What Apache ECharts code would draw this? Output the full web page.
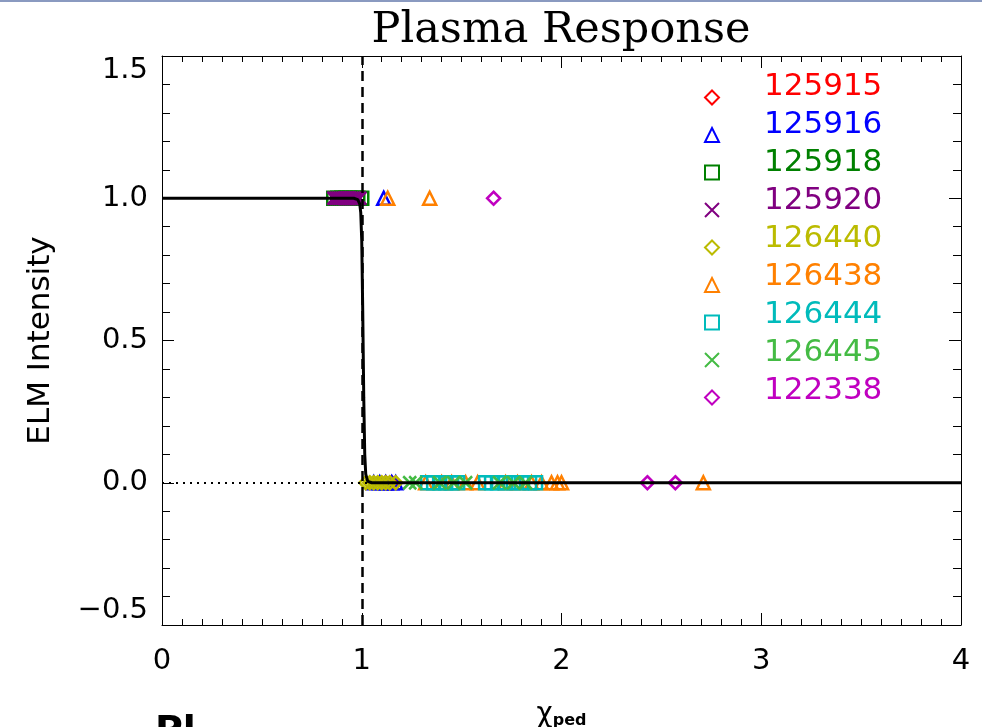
<!DOCTYPE html>
<html><head><meta charset="utf-8">
<script src="https://cdn.jsdelivr.net/npm/echarts@6/dist/echarts.min.js"></script>
<style>html,body{margin:0;padding:0;background:#fff;overflow:hidden}#c{width:982px;height:727px}</style>
</head><body><div id="c"></div>
<script>
// ---- data ----
const shotNames   = ['125915','125916','125918','125920','126440','126438','126444','126445','122338'];
const shotColors  = ['#ff0000','#0000ff','#008000','#800080','#bbbb00','#ff8000','#00bbbb','#44bb44','#c000c0'];
const shotSymbols = ['diamond','triangle','rect','cross','diamond','triangle','rect','cross','diamond'];

const d125915 = [[1.12,0],[1.15,0]];
const d125916 = [[1.11,1],[1.06,0],[1.09,0],[1.12,0],[1.15,0],[1.17,0]];
const d125918 = [[0.86,1],[0.88,1],[0.90,1],[0.92,1],[0.94,1],[0.96,1],[0.98,1],[1.00,1]];
const d125920 = [[0.86,1],[0.87,1],[0.88,1],[0.89,1],[0.90,1],[0.91,1],[0.92,1],[0.93,1],[0.94,1],[0.95,1],[0.96,1],[0.97,1],[0.98,1],[0.99,1]];
const d126440 = [[1.02,0],[1.04,0],[1.06,0],[1.08,0],[1.10,0],[1.12,0],[1.14,0],[1.17,0]];
const d126438 = [[1.13,1],[1.34,1],[1.32,0],[1.40,0],[1.45,0],[1.52,0],[1.58,0],[1.72,0],[1.78,0],[1.85,0],[1.90,0],[1.95,0],[1.98,0],[2.00,0],[2.71,0]];
const d126444 = [[1.33,0],[1.36,0],[1.39,0],[1.42,0],[1.45,0],[1.48,0],[1.62,0],[1.65,0],[1.68,0],[1.72,0],[1.76,0],[1.80,0],[1.84,0],[1.87,0]];
const d126445 = [[1.24,0],[1.27,0],[1.39,0],[1.46,0],[1.52,0],[1.69,0],[1.76,0],[1.82,0]];
const d122338 = [[1.66,1],[2.43,0],[2.57,0]];
const shotData = [d125915,d125916,d125918,d125920,d126440,d126438,d126444,d126445,d122338];

// fitted response curve
const curveX = [0, 0.96, 0.98, 0.99, 0.995, 1.0, 1.005, 1.01, 1.015, 1.02, 1.03, 1.05, 4];
const curveY = [1, 1, 0.995, 0.98, 0.95, 0.85, 0.6, 0.3, 0.1, 0.03, 0.005, 0, 0];

const xMin = 0, xMax = 4, xStep = 1;
const yMin = -0.5, yMax = 1.5, yStep = 0.5;
const titleText = 'Plasma Response';
const yTitle = 'ELM Intensity';

// ---- chart ----
const FONT = 'DejaVu Sans';
const crossPath = 'path://M0,0L10,10M10,0L0,10';
function sym(s){ return s === 'cross' ? crossPath : s; }

const series = shotNames.map((n,i)=>({
  name:n, type:'scatter', data:shotData[i],
  symbol:sym(shotSymbols[i]), symbolSize:13,
  itemStyle:{color:'rgba(0,0,0,0)', borderColor:shotColors[i], borderWidth:2.5, opacity:1},
  z:3
}));
series.push({
  name:'fit', type:'line', data:curveX.map((x,i)=>[x,curveY[i]]),
  symbol:'none', lineStyle:{color:'#000', width:3}, z:5, silent:true,
  markLine:{symbol:'none', silent:true, label:{show:false},
    data:[
      {xAxis:1, lineStyle:{color:'#000', type:[10,6], width:2.5}},
      {yAxis:0, lineStyle:{color:'#000', type:[2,5], width:2}}
    ]}
});

const axisCommon = {
  axisLine:{show:true, onZero:false, lineStyle:{color:'#000', width:1}},
  axisTick:{show:true, inside:true, length:12, lineStyle:{color:'#000', width:1}},
  splitLine:{show:false}
};

const option = {
  animation:false,
  backgroundColor:'#fff',
  title:{text:titleText, left:556, top:4, textAlign:'center',
    textStyle:{fontFamily:'DejaVu Serif', fontSize:43, fontWeight:'normal', color:'#000'}},
  grid:{left:162, right:21, top:56, bottom:102, outerBoundsMode:'none', containLabel:false},
  legend:[
    { // symbols
      orient:'vertical', left:704, top:82, padding:0, itemWidth:14, itemHeight:14, itemGap:6.5,
      data:shotNames, formatter:()=>' ',
      textStyle:{fontFamily:FONT, fontSize:31, lineHeight:30},
      selectedMode:false
    },
    { // texts
      orient:'vertical', left:757, top:71, padding:0, itemWidth:1, itemHeight:14, itemGap:7.1,
      icon:'rect', itemStyle:{opacity:0}, lineStyle:{opacity:0},
      data:shotNames.map((n,i)=>({name:n, textStyle:{color:shotColors[i]}})),
      textStyle:{fontFamily:FONT, fontSize:31, lineHeight:30},
      selectedMode:false
    }
  ],
  xAxis:[
    Object.assign({}, axisCommon, {type:'value', position:'bottom', min:xMin, max:xMax, interval:xStep,
      minorTick:{show:true, splitNumber:10, length:6, lineStyle:{color:'#000'}},
      axisLabel:{fontFamily:FONT, fontSize:29, color:'#000', margin:22},
      name:'{a|χ}{b|ped}', nameLocation:'middle', nameGap:76,
      nameTextStyle:{rich:{a:{fontFamily:FONT, fontSize:28, color:'#000'}, b:{fontFamily:FONT, fontSize:16, fontWeight:'bold', color:'#000', padding:[11,0,0,0]}}}
    }),
    Object.assign({}, axisCommon, {type:'value', position:'top', min:xMin, max:xMax, interval:xStep,
      minorTick:{show:true, splitNumber:10, length:6, lineStyle:{color:'#000'}},
      axisLabel:{show:false}})
  ],
  yAxis:[
    Object.assign({}, axisCommon, {type:'value', position:'left', min:yMin, max:yMax, interval:yStep,
      minorTick:{show:true, splitNumber:5, length:8, lineStyle:{color:'#000'}},
      axisLabel:{fontFamily:FONT, fontSize:29, color:'#000', margin:14,
        verticalAlignMaxLabel:'top', verticalAlignMinLabel:'bottom',
        formatter:v=>v.toFixed(1).replace('-','\u2212')},
      name:yTitle, nameLocation:'middle', nameGap:106,
      nameTextStyle:{fontFamily:FONT, fontSize:31, color:'#000'}
    }),
    Object.assign({}, axisCommon, {type:'value', position:'right', min:yMin, max:yMax, interval:yStep,
      minorTick:{show:true, splitNumber:5, length:8, lineStyle:{color:'#000'}},
      axisLabel:{show:false}})
  ],
  graphic:[
    {type:'rect', left:0, top:0, shape:{width:982, height:2}, style:{fill:'#8a9ac0'}},
    {type:'text', left:155, top:713, style:{text:'Pl', fontFamily:FONT, fontSize:38, fontWeight:'bold', fill:'#000'}}
  ],
  series:series
};
const chart = echarts.init(document.getElementById('c'), null, {renderer:'canvas'});
chart.setOption(option);
</script></body></html>
